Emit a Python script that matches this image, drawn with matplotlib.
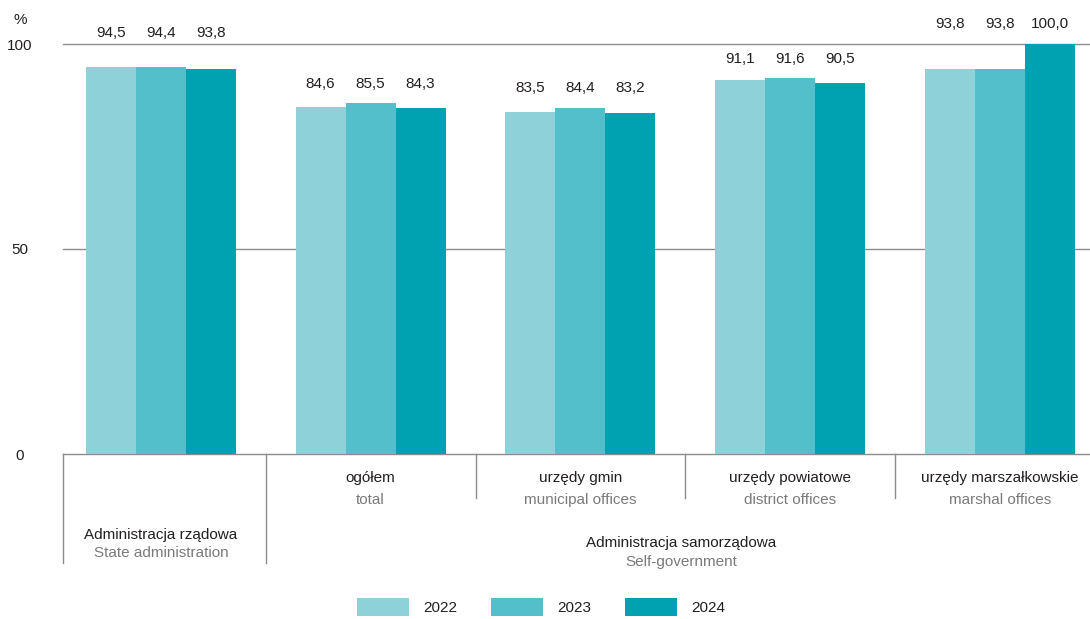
import matplotlib
matplotlib.use("Agg")
import matplotlib.pyplot as plt
import numpy as np
from matplotlib.patches import Patch

plt.rcParams['font.family'] = ['Liberation Sans', 'DejaVu Sans']

# dane
years = ["2022", "2023", "2024"]
groups_pl = ["Administracja rządowa", "ogółem", "urzędy gmin", "urzędy powiatowe", "urzędy marszałkowskie"]
groups_en = ["State administration", "total", "municipal offices", "district offices", "marshal offices"]
v2022 = [94.5, 84.6, 83.5, 91.1, 93.8]
v2023 = [94.4, 85.5, 84.4, 91.6, 93.8]
v2024 = [93.8, 84.3, 83.2, 90.5, 100.0]
colors = ["#8fd1d9", "#53bfca", "#00a1b0"]

dark = "#231f20"
grey = "#7a7a7a"
fs = 11

fig = plt.figure(figsize=(10.9, 6.19), dpi=100)
ax = fig.add_axes([63 / 1090, (619 - 454) / 619, 1 - 63 / 1090, 410 / 619])

x = np.arange(len(groups_pl))
w = 50 / 209.75
series = [v2022, v2023, v2024]
for i, vals in enumerate(series):
    ax.bar(x + (i - 1) * w, vals, width=w, color=colors[i], zorder=2, linewidth=0)

# wartości nad słupkami
for g in range(len(x)):
    top = max(s[g] for s in series) + 4.8
    if 97 < top < 102.8:
        top = 102.8
    for i, vals in enumerate(series):
        ax.text(x[g] + (i - 1) * w, top, f"{vals[g]:.1f}".replace(".", ","),
                ha="center", va="center", fontsize=fs, color=dark, clip_on=False)

ax.set_xlim(-0.467, 4.43)
ax.set_ylim(0, 100)
ax.set_yticks([0, 50, 100])
ax.set_yticklabels(["0", "50", "100"], fontsize=fs, color=dark, ha="center")
ax.tick_params(axis="y", length=0, pad=31)
ax.set_xticks([])
for s in ax.spines.values():
    s.set_visible(False)
for yv in [0, 50, 100]:
    ax.axhline(yv, color="#8c8c8c", linewidth=1, zorder=1, clip_on=False)
fig.text(20 / 1090, 1 - 20 / 619, "%", fontsize=fs, color=dark, ha="center", va="center")

# linie podziału pod osią
tr = ax.get_xaxis_transform()
for xs, yb in [(-0.467, -0.266), (0.5, -0.266), (1.5, -0.107), (2.5, -0.107), (3.5, -0.107)]:
    ax.plot([xs, xs], [0, yb], color="#8c8c8c", linewidth=1, transform=tr, clip_on=False)

# podpisy kategorii
for g in range(1, len(x)):
    ax.text(x[g], -0.0585, groups_pl[g], transform=tr, ha="center", va="center",
            fontsize=fs, color=dark)
    ax.text(x[g], -0.112, groups_en[g], transform=tr, ha="center", va="center",
            fontsize=fs, color=grey)
ax.text(x[0], -0.198, groups_pl[0], transform=tr, ha="center", va="center", fontsize=fs, color=dark)
ax.text(x[0], -0.241, groups_en[0], transform=tr, ha="center", va="center", fontsize=fs, color=grey)
ax.text(2.48, -0.217, "Administracja samorządowa", transform=tr, ha="center", va="center",
        fontsize=fs, color=dark)
ax.text(2.48, -0.263, "Self-government", transform=tr, ha="center", va="center",
        fontsize=fs, color=grey)

handles = [Patch(facecolor=c, edgecolor="none", label=y) for c, y in zip(colors, years)]
fig.legend(handles=handles, loc="center", bbox_to_anchor=(541 / 1090, 1 - 607 / 619), ncol=3,
           frameon=False, fontsize=fs, handlelength=3.4, handleheight=1.5,
           handletextpad=0.95, columnspacing=2.2, labelcolor=dark)

fig.savefig("out.png", dpi=100)
